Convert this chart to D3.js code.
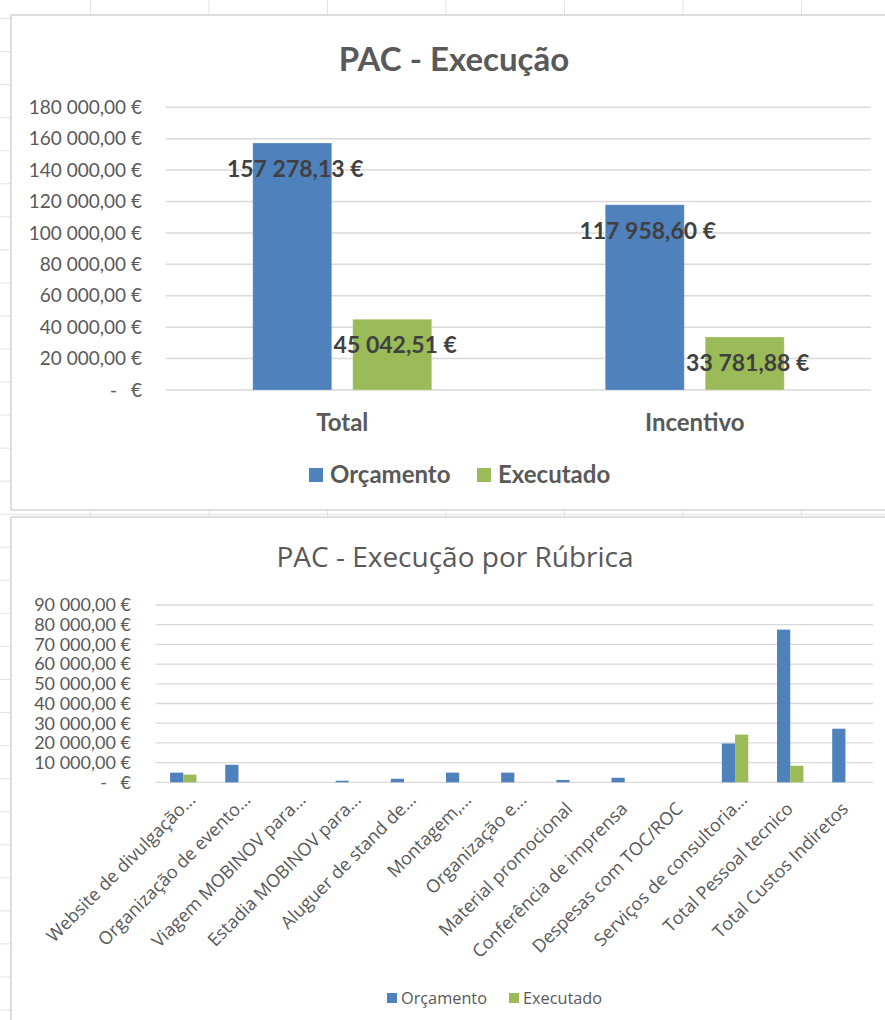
<!DOCTYPE html>
<html>
<head>
<meta charset="utf-8">
<script src="https://cdn.jsdelivr.net/npm/d3@7"></script>
<style>
  html, body { margin: 0; padding: 0; background: #ffffff; }
  svg { display: block; }
  text { font-family: "Lato", "Liberation Sans", sans-serif; fill: #595959; }
  .os { font-family: "Open Sans", "Noto Sans", sans-serif; }
</style>
</head>
<body>
<svg id="chart" width="885" height="1020"></svg>
<script>
// ---------- Data ----------
const seriesNames = ["Orçamento", "Executado"];
const seriesColors = ["#4F81BD", "#9BBB59"];

const topTitle = "PAC - Execução";
const topCategories = ["Total", "Incentivo"];
const topOrcamento = [157278.13, 117958.60];
const topExecutado = [45042.51, 33781.88];
const topTicks = [0, 20000, 40000, 60000, 80000, 100000, 120000, 140000, 160000, 180000];

const bottomTitle = "PAC - Execução por Rúbrica";
const bottomCategories = [
  "Website de divulgação...",
  "Organização de evento...",
  "Viagem MOBINOV para...",
  "Estadia MOBINOV para...",
  "Aluguer de stand de...",
  "Montagem,...",
  "Organização e...",
  "Material promocional",
  "Conferência de imprensa",
  "Despesas com TOC/ROC",
  "Serviços de consultoria...",
  "Total Pessoal tecnico",
  "Total Custos Indiretos"
];
const bottomOrcamento = [4900, 8900, 0, 800, 1800, 4900, 4900, 1200, 2300, 0, 19700, 77500, 27200];
const bottomExecutado = [3900, 0, 0, 0, 0, 0, 0, 0, 0, 0, 24200, 8400, 0];
const bottomTicks = [0, 10000, 20000, 30000, 40000, 50000, 60000, 70000, 80000, 90000];

// ---------- Helpers ----------
const locale = d3.formatLocale({decimal: ",", thousands: "\u00a0", grouping: [3], currency: ["", " €"]});
const fmtNum = locale.format(",.2f");
const fmtEuro = v => fmtNum(v).replace(/\u00a0/g, " ") + " €";

const svg = d3.select("#chart");
svg.append("rect").attr("x", 0).attr("y", 0).attr("width", 885).attr("height", 1020).attr("fill", "#ffffff");

// spreadsheet grid (behind charts)
const sheet = svg.append("g").attr("stroke", "#e3e3e3").attr("stroke-width", 1);
d3.range(0, 8).forEach(i => {
  const x = 90.5 + i * 118.5;
  sheet.append("line").attr("x1", x).attr("x2", x).attr("y1", 0).attr("y2", 1020);
});
d3.range(0, 31).forEach(i => {
  const y = 18.5 + i * 33.05;
  sheet.append("line").attr("x1", 0).attr("x2", 885).attr("y1", y).attr("y2", y);
});

// ---------- Top chart ----------
(function () {
  const g = svg.append("g");
  g.append("rect").attr("x", 11).attr("y", 15).attr("width", 900).attr("height", 495)
    .attr("fill", "#fff").attr("stroke", "#d4d4d4").attr("stroke-width", 1.5);

  const x0 = 166, x1 = 871, yBase = 390, yTop = 107.3;
  const y = d3.scaleLinear().domain([0, 180000]).range([yBase, yTop]);
  const xb = d3.scaleBand().domain(topCategories).range([x0, x1]).paddingInner(0).paddingOuter(0);
  const barW = 79, gap = 21;

  const grid = g.append("g");
  topTicks.forEach(t => {
    grid.append("line").attr("x1", x0).attr("x2", x1).attr("y1", y(t)).attr("y2", y(t))
      .attr("stroke", "#d9d9d9").attr("stroke-width", 1.5);
  });

  const yl = g.append("g").attr("font-size", 19);
  topTicks.forEach(t => {
    if (t === 0) {
      yl.append("text").attr("x", 117).attr("y", y(t)).attr("dy", "0.35em").attr("text-anchor", "end").text("-");
      yl.append("text").attr("x", 142).attr("y", y(t)).attr("dy", "0.35em").attr("text-anchor", "end").text("€");
    } else {
      yl.append("text").attr("x", 142).attr("y", y(t)).attr("dy", "0.35em").attr("text-anchor", "end").text(fmtEuro(t));
    }
  });

  const seriesData = [topOrcamento, topExecutado];
  seriesData.forEach((vals, si) => {
    const bx = (i) => xb(topCategories[i]) + xb.bandwidth() / 2 + (si === 0 ? -(gap / 2 + barW) : gap / 2);
    g.append("g").selectAll("rect").data(vals).join("rect")
      .attr("x", (d, i) => bx(i))
      .attr("y", d => y(d))
      .attr("width", barW)
      .attr("height", d => yBase - y(d))
      .attr("fill", seriesColors[si])
      .attr("stroke", "rgba(255,255,255,0.25)").attr("stroke-width", 1);
    g.append("g").selectAll("text").data(vals).join("text")
      .attr("x", (d, i) => bx(i) + barW / 2 + 3)
      .attr("y", d => y(d) + 26)
      .attr("dy", "0.35em")
      .attr("text-anchor", "middle")
      .attr("font-size", 23).attr("font-weight", "bold")
      .style("fill", "#404040")
      .text(d => fmtEuro(d));
  });

  g.append("g").selectAll("text").data(topCategories).join("text")
    .attr("x", d => xb(d) + xb.bandwidth() / 2)
    .attr("y", 423).attr("dy", "0.35em").attr("text-anchor", "middle")
    .attr("font-size", 24).attr("font-weight", "bold").text(d => d);

  g.append("text").attr("x", 454).attr("y", 59).attr("dy", "0.35em").attr("text-anchor", "middle")
    .attr("font-size", 33).attr("font-weight", "bold").text(topTitle);

  const lg = g.append("g").attr("font-size", 24).attr("font-weight", "bold");
  const legX = [309, 477];
  seriesNames.forEach((n, i) => {
    lg.append("rect").attr("x", legX[i]).attr("y", 468).attr("width", 14).attr("height", 14).attr("fill", seriesColors[i]);
    lg.append("text").attr("x", legX[i] + 21).attr("y", 475).attr("dy", "0.35em").text(n);
  });
})();

// ---------- Bottom chart ----------
(function () {
  const g = svg.append("g");
  g.append("rect").attr("x", 11).attr("y", 517).attr("width", 900).attr("height", 600)
    .attr("fill", "#fff").attr("stroke", "#d4d4d4").attr("stroke-width", 1.5);

  const x0 = 155.7, x1 = 873, yBase = 782.3, yTop = 605;
  const y = d3.scaleLinear().domain([0, 90000]).range([yBase, yTop]);
  const xb = d3.scaleBand().domain(bottomCategories).range([x0, x1]);
  const barW = 13.2;

  const grid = g.append("g");
  bottomTicks.forEach(t => {
    grid.append("line").attr("x1", x0).attr("x2", x1).attr("y1", y(t)).attr("y2", y(t))
      .attr("stroke", "#d9d9d9").attr("stroke-width", 1.3);
  });

  const yl = g.append("g").attr("font-size", 18);
  bottomTicks.forEach(t => {
    if (t === 0) {
      yl.append("text").attr("x", 107).attr("y", y(t)).attr("dy", "0.35em").attr("text-anchor", "end").text("-");
      yl.append("text").attr("x", 131).attr("y", y(t)).attr("dy", "0.35em").attr("text-anchor", "end").text("€");
    } else {
      yl.append("text").attr("x", 131).attr("y", y(t)).attr("dy", "0.35em").attr("text-anchor", "end").text(fmtEuro(t));
    }
  });

  [bottomOrcamento, bottomExecutado].forEach((vals, si) => {
    g.append("g").selectAll("rect").data(vals).join("rect")
      .attr("x", (d, i) => xb(bottomCategories[i]) + xb.bandwidth() / 2 + (si === 0 ? -barW : 0))
      .attr("y", d => y(d))
      .attr("width", barW)
      .attr("height", d => yBase - y(d))
      .attr("fill", seriesColors[si]);
  });

  g.append("g").selectAll("text").data(bottomCategories).join("text")
    .attr("class", "os")
    .attr("transform", d => `translate(${xb(d) + xb.bandwidth() / 2 + 4},${810}) rotate(-45)`)
    .attr("dx", d => d.endsWith("...") ? 13 : 0)
    .attr("text-anchor", "end")
    .attr("font-size", 18)
    .text(d => d);

  g.append("text").attr("class", "os").attr("x", 455).attr("y", 557).attr("dy", "0.35em").attr("text-anchor", "middle")
    .attr("font-size", 28).text(bottomTitle);

  const lg = g.append("g").attr("class", "os").attr("font-size", 16.3);
  const legX = [387, 509];
  seriesNames.forEach((n, i) => {
    lg.append("rect").attr("x", legX[i]).attr("y", 993).attr("width", 10).attr("height", 10).attr("fill", seriesColors[i]);
    lg.append("text").attr("class", "os").attr("x", legX[i] + 14).attr("y", 998).attr("dy", "0.35em").text(n);
  });
})();
</script>
</body>
</html>
